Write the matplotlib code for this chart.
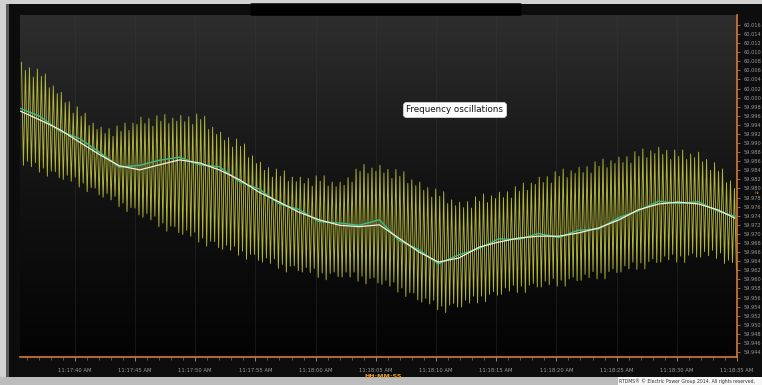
import numpy as np
import matplotlib.pyplot as plt
from matplotlib.patches import Rectangle, FancyBboxPatch
from matplotlib.colors import LinearSegmentedColormap
from matplotlib.ticker import MultipleLocator, FuncFormatter

# time axis: seconds after 11:17:00 AM
t_start, t_end = 35.45, 95.0
nominal_hz = 60.0

# oscillation peaks / troughs per cycle, deviation from 60 Hz in mHz
tops_mhz = [
    7.8, 6.0, 6.6, 4.5, 6.3, 4.7, 5.2, 2.2, 2.6, 0.9,
    1.2, -1.1, -0.9, -3.4, -2.0, -4.1, -3.4, -6.1, -5.6, -7.0,
    -6.5, -7.9, -6.8, -8.5, -6.2, -7.4, -5.6, -7.2, -5.6, -5.9,
    -4.3, -5.7, -4.6, -6.3, -4.0, -5.2, -3.7, -5.7, -4.5, -5.2,
    -3.9, -5.3, -4.2, -5.9, -3.6, -4.8, -4.1, -7.0, -6.5, -8.1,
    -7.6, -9.4, -8.8, -10.9, -9.1, -10.7, -10.2, -13.2, -12.8, -14.5,
    -14.2, -16.0, -15.4, -17.5, -15.7, -17.3, -16.1, -18.4, -17.5, -18.5,
    -17.5, -18.9, -17.8, -19.5, -17.2, -18.4, -17.2, -19.5, -18.6, -19.6,
    -18.6, -19.3, -17.6, -18.6, -15.7, -16.2, -14.7, -16.7, -15.5, -16.2,
    -14.9, -16.6, -15.8, -17.8, -15.8, -17.3, -16.3, -18.9, -18.1, -19.4,
    -18.6, -20.4, -19.8, -21.9, -20.1, -21.7, -20.7, -23.3, -22.5, -23.8,
    -23.0, -24.2, -22.9, -24.3, -21.8, -22.8, -21.2, -23.1, -21.6, -22.2,
    -20.8, -22.0, -20.7, -22.1, -19.6, -20.6, -18.8, -20.4, -18.8, -19.1,
    -17.5, -18.7, -17.4, -18.8, -16.3, -17.3, -15.7, -17.6, -16.1, -16.7,
    -15.3, -16.5, -15.2, -16.6, -14.1, -15.1, -13.5, -15.4, -13.9, -14.5,
    -13.1, -14.3, -13.0, -14.4, -11.9, -12.9, -11.3, -13.2, -11.7, -12.3,
    -10.9, -12.5, -11.6, -13.6, -11.5, -12.9, -11.5, -13.6, -12.4, -13.2,
    -12.0, -14.1, -13.6, -16.0, -14.3, -16.2, -15.7, -18.7, -18.3, -20.0,
]
bottoms_mhz = [
    -14.9, -14.0, -15.2, -14.3, -16.4, -15.5, -17.3, -16.2, -16.3, -17.6,
    -18.0, -17.1, -18.4, -17.5, -19.7, -18.8, -20.7, -19.8, -19.9, -21.4,
    -21.9, -21.1, -22.5, -21.7, -24.0, -23.2, -25.1, -24.2, -24.3, -25.8,
    -26.3, -25.5, -26.9, -26.1, -28.4, -27.6, -29.4, -28.3, -28.4, -29.7,
    -30.1, -29.2, -30.5, -29.6, -31.8, -30.9, -32.7, -31.6, -31.7, -33.0,
    -33.4, -32.5, -33.6, -32.7, -34.7, -33.8, -35.6, -34.5, -34.5, -35.8,
    -36.2, -35.3, -36.5, -35.5, -37.6, -36.7, -38.4, -37.1, -37.0, -38.1,
    -38.4, -37.4, -38.5, -37.6, -39.6, -38.6, -40.1, -38.7, -38.4, -39.4,
    -39.5, -38.4, -39.5, -38.4, -40.4, -39.3, -41.0, -39.8, -39.6, -40.8,
    -41.1, -40.2, -41.5, -40.6, -42.8, -41.9, -43.8, -42.9, -43.0, -44.5,
    -45.0, -44.2, -45.4, -44.6, -46.7, -45.9, -47.3, -45.7, -45.3, -46.1,
    -46.1, -44.6, -45.2, -43.7, -45.2, -43.7, -44.9, -43.3, -42.7, -43.5,
    -43.3, -41.9, -42.6, -41.3, -42.9, -41.5, -42.9, -41.3, -40.9, -41.7,
    -41.7, -40.4, -41.2, -39.8, -41.5, -40.2, -41.5, -39.9, -39.5, -40.3,
    -40.2, -38.9, -39.6, -38.3, -39.9, -38.6, -39.9, -38.3, -37.7, -38.5,
    -38.4, -37.0, -37.7, -36.2, -37.8, -36.4, -37.7, -36.1, -35.5, -36.3,
    -36.2, -34.9, -35.7, -34.5, -36.2, -34.9, -36.3, -34.7, -34.3, -35.1,
    -35.1, -33.9, -34.8, -33.6, -35.4, -34.2, -36.5, -35.8, -36.3, -38.0,
]

# smoothed frequency (white) and raw average (green)
avg_t = [35.5, 37.1, 38.8, 40.4, 42.1, 43.7, 45.4, 47.0, 48.7, 50.4,
         52.0, 53.7, 55.3, 57.0, 58.6, 60.3, 62.0, 63.6, 65.3, 66.9,
         68.6, 70.2, 71.9, 73.6, 75.2, 76.9, 78.5, 80.2, 81.8, 83.5,
         85.2, 86.8, 88.5, 90.1, 91.8, 93.4, 94.8]
smooth_mhz = [-3.0, -4.9, -7.1, -9.8, -12.6, -15.0, -15.9, -14.8, -13.7, -14.4,
              -15.9, -18.1, -20.8, -23.0, -25.2, -26.9, -28.1, -28.4, -28.0, -30.9,
              -34.0, -36.2, -35.3, -32.9, -31.8, -30.9, -30.5, -30.5, -29.8, -28.7,
              -26.9, -24.7, -23.4, -23.0, -23.4, -24.7, -26.5]
avg_mhz = [-2.4, -4.1, -7.4, -9.0, -12.1, -15.3, -14.9, -13.8, -13.1, -14.8,
           -15.2, -18.5, -20.1, -23.4, -24.6, -27.3, -27.6, -28.1, -26.9, -31.4,
           -33.5, -36.6, -34.6, -33.2, -31.1, -31.2, -29.9, -30.8, -29.2, -28.9,
           -26.4, -24.9, -22.8, -23.3, -22.9, -25.0, -26.1]

y_ticks_mhz = list(range(-56, 17, 2))


def to_hz(mhz):
    return nominal_hz + np.asarray(mhz) / 1000.0


W, H = 762, 385
fig = plt.figure(figsize=(W / 100, H / 100), dpi=100, facecolor='#0d0d0d')


def fig_box(x0, y0, x1, y1, **kw):
    fig.patches.append(Rectangle((x0 / W, 1 - y1 / H), (x1 - x0) / W, (y1 - y0) / H,
                                 transform=fig.transFigure, **kw))


# window frame
fig_box(0, 0, W, 4, color='#d2d2d2', lw=0)
fig_box(0, 0, 6, H, color='#d2d2d2', lw=0)
fig_box(6, 4, 9, 377, color='#5a5a5a', lw=0)
fig_box(0, 377, W, H, color='#bcbcbc', lw=0)
fig_box(618, 377, W, H, color='#f6f6f6', lw=0)
fig.patches.append(FancyBboxPatch((252 / W, 1 - 15 / H), 268 / W, 11 / H,
                                  boxstyle='round,pad=0.002', transform=fig.transFigure,
                                  color='black', lw=0))

rect = [20 / W, 1 - 357 / H, 717 / W, 342 / H]

# dark gradient backdrop
bg = fig.add_axes(rect, zorder=0)
grad = np.linspace(0, 1, 256).reshape(-1, 1)
cmap = LinearSegmentedColormap.from_list('bg', ['#030303', '#131313', '#2e2e2e'])
bg.imshow(grad, aspect='auto', cmap=cmap, origin='lower', extent=[0, 1, 0, 1])
bg.axis('off')

ax = fig.add_axes(rect, zorder=1)
ax.set_facecolor('none')

# zig-zag oscillation from the per-cycle extremes
n = len(tops_mhz)
period = (t_end - t_start) / n
t_top = t_start + 0.12 + np.arange(n) * period
t_bot = t_top + period / 2
tt = np.column_stack([t_top, t_bot]).ravel()
ff = np.column_stack([to_hz(tops_mhz), to_hz(bottoms_mhz)]).ravel()
ax.plot(tt, ff, color='#b4b83a', lw=0.65)

ax.plot(avg_t, to_hz(avg_mhz), color='#3dbd86', lw=1.0)
ax.plot(avg_t, to_hz(smooth_mhz), color='#f3efe2', lw=0.9)

ax.set_xlim(t_start, t_end)
ax.set_ylim(59.9429, 60.0182)

# axes styling
for side in ('left', 'top'):
    ax.spines[side].set_visible(False)
for side in ('right', 'bottom'):
    ax.spines[side].set_color('#d9782c')
    ax.spines[side].set_linewidth(1.2)

ax.yaxis.tick_right()
ax.set_yticks(to_hz(y_ticks_mhz))
ax.yaxis.set_major_formatter(FuncFormatter(lambda v, p: f'{v:.3f}'))
ax.xaxis.set_major_locator(MultipleLocator(5))
ax.xaxis.set_minor_locator(MultipleLocator(1))


def clock(v, p):
    s = int(round(v))
    return f'11:{17 + s // 60:02d}:{s % 60:02d} AM'


ax.xaxis.set_major_formatter(FuncFormatter(clock))
ax.tick_params(axis='y', colors='#9a9a9a', labelsize=3.6, length=2, width=0.5, pad=3)
ax.tick_params(axis='x', which='major', colors='#9a9a9a', labelsize=3.8, length=3,
               width=0.6, pad=5)
ax.tick_params(axis='x', which='minor', colors='#7a7a7a', length=2, width=0.5)
ax.grid(axis='x', color='#3a3a3a', lw=0.5, alpha=0.5)

fig.text(455 / W, 1 - 110 / H, 'Frequency oscillations', ha='center', va='center',
         fontsize=6.3, color='#111111',
         bbox=dict(boxstyle='round,pad=0.35', fc='white', ec='#dddddd', lw=0.5))
fig.text(383 / W, 1 - 377 / H, 'HH:MM:SS', ha='center', va='center', fontsize=4.5,
         color='#e8a020', fontweight='bold')
# unit marker sits in the gap between the 59.980 and 59.978 labels
fig.text(757 / W, 1 - 193 / H, 'Hz', ha='center', va='center', fontsize=2.6,
         color='#e8a020')
fig.text(619 / W, 1 - 381.5 / H,
         'RTDMS\u00ae \u00a9 Electric Power Group 2014. All rights reserved.',
         ha='left', va='center', fontsize=3.3, color='#333333')

fig.savefig('out.png', dpi=100, facecolor=fig.get_facecolor())
